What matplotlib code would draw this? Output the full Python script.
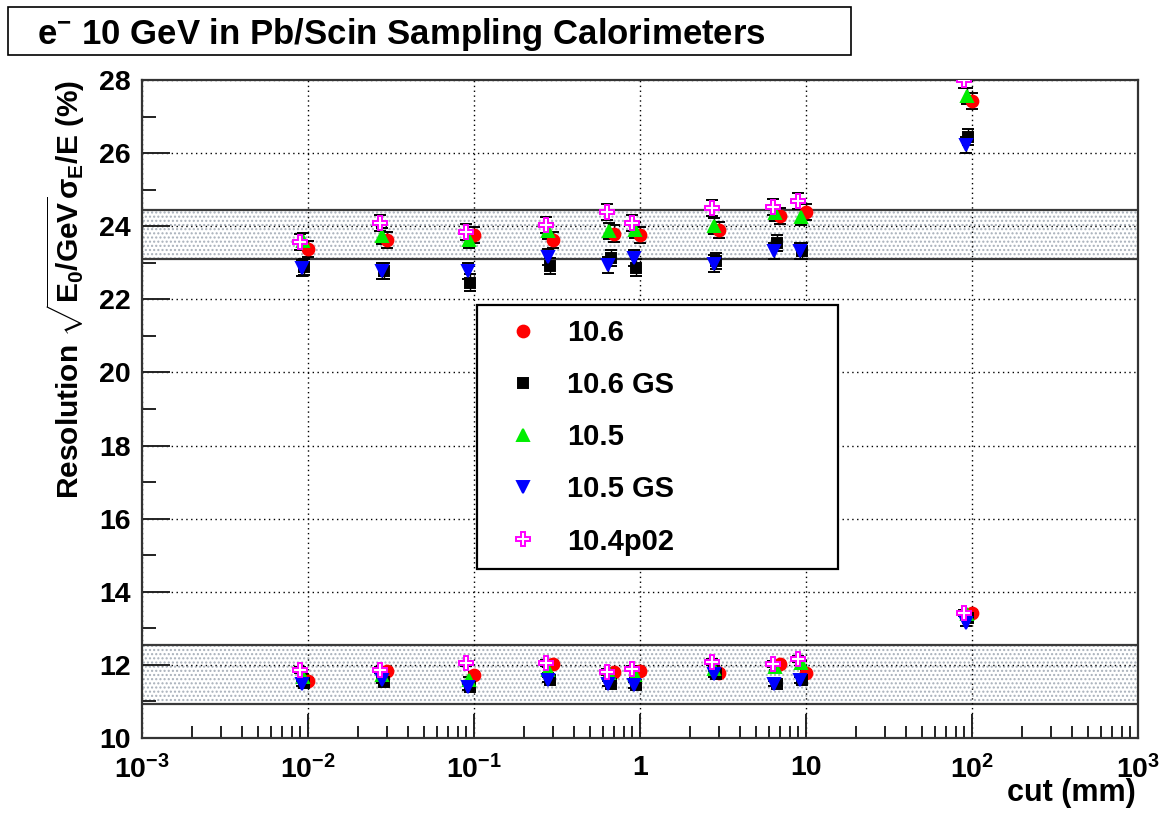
import matplotlib.pyplot as plt
from matplotlib.lines import Line2D
from matplotlib.ticker import FixedLocator, FixedFormatter, LogLocator, NullFormatter, MultipleLocator

plt.rcParams['font.family'] = ['Liberation Sans', 'DejaVu Sans']
plt.rcParams['font.weight'] = 'bold'
plt.rcParams['mathtext.fontset'] = 'custom'
plt.rcParams['mathtext.rm'] = 'Liberation Sans:bold'
plt.rcParams['mathtext.it'] = 'Liberation Sans:bold'
plt.rcParams['mathtext.bf'] = 'Liberation Sans:bold'
plt.rcParams['hatch.color'] = '#a8b0ba'
plt.rcParams['hatch.linewidth'] = 1.0

# cut values (mm), each version slightly shifted so the points do not overlap
cut_106 = [0.01, 0.03, 0.1, 0.3, 0.7, 1, 3, 7, 10, 100]
cut_106gs = [0.0095, 0.0285, 0.095, 0.285, 0.665, 0.95, 2.85, 6.65, 9.5, 95]
cut_105 = [0.0093, 0.028, 0.093, 0.28, 0.65, 0.93, 2.8, 6.5, 9.3, 93]
cut_105gs = [0.0092, 0.0278, 0.092, 0.278, 0.645, 0.92, 2.78, 6.45, 9.2, 92]
cut_104 = [0.009, 0.027, 0.09, 0.27, 0.63, 0.9, 2.7, 6.3, 9, 90]

# resolution (%) - upper group and lower group
res_106_up = [23.38, 23.62, 23.77, 23.62, 23.80, 23.77, 23.90, 24.29, 24.38, 27.43]
res_106_lo = [11.56, 11.84, 11.72, 12.02, 11.81, 11.84, 11.78, 12.02, 11.77, 13.41]
res_106gs_up = [22.88, 22.78, 22.46, 22.92, 23.13, 22.87, 23.06, 23.53, 23.33, 26.44]
res_106gs_lo = [11.50, 11.54, 11.40, 11.58, 11.49, 11.45, 11.76, 11.49, 11.58, 13.27]
res_105_up = [23.60, 23.74, 23.62, 23.88, 23.88, 23.90, 24.01, 24.35, 24.26, 27.56]
res_105_lo = [11.67, 11.72, 11.58, 11.86, 11.77, 11.72, 11.90, 11.95, 12.04, 13.40]
res_105gs_up = [22.86, 22.78, 22.78, 23.15, 22.95, 23.14, 22.98, 23.31, 23.31, 26.22]
res_105gs_lo = [11.49, 11.58, 11.40, 11.60, 11.49, 11.45, 11.75, 11.49, 11.58, 13.15]
res_104_up = [23.56, 24.08, 23.83, 24.04, 24.40, 24.08, 24.51, 24.53, 24.68, 27.99]
res_104_lo = [11.86, 11.86, 12.04, 12.06, 11.81, 11.90, 12.08, 12.03, 12.17, 13.42]

err_up = 0.22
err_lo = 0.08

band_up = (23.11, 24.45)
band_lo = (10.93, 12.54)

labels = ["10.6", "10.6 GS", "10.5", "10.5 GS", "10.4p02"]

fig = plt.figure(figsize=(11.61, 8.18), dpi=100)
ax = fig.add_axes([142/1161, 1-738/818, (1138-142)/1161, (738-80)/818])

ax.set_xscale('log')
ax.set_xlim(1e-3, 1e3)
ax.set_ylim(10, 28)

# bands
for lo, hi in [band_up, band_lo]:
    ax.fill_between([1e-3, 1e3], lo, hi, facecolor='none', hatch='....',
                    edgecolor='#a8b0ba', linewidth=0, zorder=0.5)
    ax.axhline(lo, color='#3a3a3a', lw=1.6, zorder=0.8)
    ax.axhline(hi, color='#3a3a3a', lw=1.6, zorder=0.8)

series = [
    (cut_106, res_106_up, res_106_lo, 'o', '#ff0000', 8.5, True),
    (cut_106gs, res_106gs_up, res_106gs_lo, 's', '#000000', 7.0, True),
    (cut_105, res_105_up, res_105_lo, '^', '#00ee00', 8.0, True),
    (cut_105gs, res_105gs_up, res_105gs_lo, 'v', '#0000ff', 8.0, True),
    (cut_104, res_104_up, res_104_lo, 'P', '#ff00ff', 10.0, False),
]

handles = []
for (x, yu, yl, m, c, ms, filled), lab in zip(series, labels):
    xs = x + x
    ys = yu + yl
    es = [err_up] * len(yu) + [err_lo] * len(yl)
    mfc = c if filled else 'white'
    ax.errorbar(xs, ys, yerr=es, fmt=m, color=c, ms=ms, mfc=mfc, mec=c,
                mew=1.4, ecolor='black', elinewidth=1.0, capsize=4, capthick=1.0,
                zorder=3)
    handles.append(Line2D([], [], marker=m, ls='none', color=c, ms=ms,
                          mfc=mfc, mec=c, mew=1.4))

# grid
ax.grid(True, which='major', color='black', ls=(0, (1, 2.5)), lw=1.0)

# ticks
ax.xaxis.set_major_locator(FixedLocator([1e-3, 1e-2, 1e-1, 1, 10, 100, 1000]))
ax.xaxis.set_major_formatter(FixedFormatter(['$10^{-3}$', '$10^{-2}$', '$10^{-1}$', '1',
                                             '10', '$10^{2}$', '$10^{3}$']))
ax.xaxis.set_minor_locator(LogLocator(base=10, subs=range(2, 10), numticks=20))
ax.xaxis.set_minor_formatter(NullFormatter())
ax.yaxis.set_major_locator(MultipleLocator(2))
ax.yaxis.set_minor_locator(MultipleLocator(1))

ax.tick_params(which='both', direction='in', top=False, right=False, width=1.4, colors='#222222')
ax.tick_params(axis='y', which='major', length=20, labelsize=20.5, pad=8)
ax.tick_params(axis='y', which='minor', length=10)
ax.tick_params(axis='x', which='major', length=17, labelsize=20.5, pad=12)
ax.tick_params(axis='x', which='minor', length=9)
for lab in ax.get_xticklabels() + ax.get_yticklabels():
    lab.set_color('black')
for s in ax.spines.values():
    s.set_linewidth(1.6)
    s.set_color('#333333')

# labels
fig.text(1136/1161, 0.012, 'cut (mm)', ha='right', va='bottom', fontsize=22)
fig.text(66/1161, 1-80/818, r'Resolution $\sqrt{E_0/GeV}\sigma_E/E$ (%)', rotation=90,
         ha='center', va='top', fontsize=21.5)

# title box
fig.text(37/1161, 1-44/818, r'e$^{-}$ 10 GeV in Pb/Scin Sampling Calorimeters',
         ha='left', va='baseline', fontsize=25)
fig.patches.append(plt.Rectangle((8/1161, 1-55/818), (851-8)/1161, 48/818, fill=False,
                                 ec='black', lw=1.2, transform=fig.transFigure, figure=fig))

# legend
fs = 21
leg = ax.legend(handles, labels, loc='upper left',
                bbox_to_anchor=(477/1161, 1-563/818, (838-477)/1161, (563-305)/818),
                bbox_transform=fig.transFigure, mode='expand', borderaxespad=0,
                fontsize=fs, fancybox=False, framealpha=1, edgecolor='black',
                borderpad=0.47, labelspacing=0.83, handlelength=2.2, handletextpad=0.43)
leg.get_frame().set_linewidth(1.6)
leg.set_zorder(5)

fig.savefig('out.png', dpi=100)
